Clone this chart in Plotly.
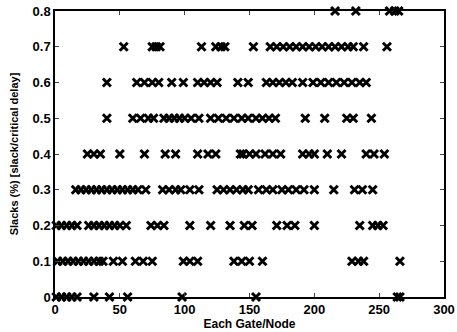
import plotly.graph_objects as go

# x positions (gate/node index) of markers for each slack level
slack_levels = [0.0, 0.1, 0.2, 0.3, 0.4, 0.5, 0.6, 0.7, 0.8]
x_00 = [1, 5, 9, 13, 17, 30, 42, 56, 98, 155, 264, 266]
x_01 = [2, 6, 10, 14, 18, 22, 26, 30, 34, 37, 45, 52, 62, 68, 75, 99, 104, 110,
        138, 144, 150, 160, 229, 234, 238, 266]
x_02 = [1, 5, 9, 13, 17, 26, 30, 34, 38, 42, 46, 50, 55, 74, 79, 84, 104, 120,
        135, 146, 152, 171, 179, 185, 200, 235, 245, 249, 253]
x_03 = [16, 20, 24, 28, 32, 36, 40, 44, 48, 52, 56, 60, 64, 70, 83, 88, 93, 97,
        104, 111, 125, 130, 135, 140, 145, 149, 157, 163, 168, 175, 180, 186,
        192, 200, 215, 231, 237, 245]
x_04 = [25, 30, 35, 50, 69, 85, 93, 110, 118, 124, 143, 145, 150, 155, 162, 168,
        174, 191, 196, 200, 210, 221, 240, 246, 254]
x_05 = [40, 60, 66, 72, 76, 84, 88, 92, 96, 100, 105, 111, 120, 126, 132, 138,
        144, 149, 155, 160, 165, 170, 193, 208, 225, 230, 244]
x_06 = [40, 63, 69, 75, 80, 90, 99, 110, 115, 120, 125, 141, 149, 163, 168, 173,
        178, 183, 191, 199, 205, 211, 217, 223, 229, 235, 240]
x_07 = [53, 75, 78, 81, 113, 124, 128, 131, 153, 166, 171, 176, 181, 186, 191,
        196, 201, 206, 211, 216, 221, 226, 230, 238, 256]
x_08 = [216, 232, 258, 262, 265]

rows = [x_00, x_01, x_02, x_03, x_04, x_05, x_06, x_07, x_08]
xs, ys = [], []
for lvl, row in zip(slack_levels, rows):
    xs += row
    ys += [lvl] * len(row)

x_ticks = [0, 50, 100, 150, 200, 250, 300]
y_ticks = [0, 0.1, 0.2, 0.3, 0.4, 0.5, 0.6, 0.7, 0.8]
y_tick_text = ["0", "0.1", "0.2", "0.3", "0.4", "0.5", "0.6", "0.7", "0.8"]

fig = go.Figure(go.Scatter(
    x=xs, y=ys, mode="markers",
    marker=dict(symbol="x-thin", size=8, color="black",
                line=dict(width=3, color="black")),
    cliponaxis=False, showlegend=False,
))

tickfont = dict(family="Liberation Sans, Arial", size=13, color="black", weight="bold")
fig.update_layout(
    width=457, height=332,
    margin=dict(l=55, r=13, t=11, b=35),
    paper_bgcolor="white", plot_bgcolor="white",
    font=dict(family="Liberation Sans, Arial", size=12, color="black"),
    xaxis=dict(range=[0, 300], tickvals=x_ticks, ticks="inside", ticklen=4,
               showline=True, linecolor="black", linewidth=1.5, mirror="ticks",
               showgrid=False, zeroline=False, automargin=False,
               tickfont=tickfont,
               title=dict(text="<b>Each Gate/Node</b>", standoff=2,
                          font=dict(family="Liberation Sans, Arial", size=12))),
    yaxis=dict(range=[0, 0.8], tickvals=y_ticks, ticktext=y_tick_text,
               ticks="inside", ticklen=4,
               showline=True, linecolor="black", linewidth=1.5, mirror="ticks",
               showgrid=False, zeroline=False, automargin=False,
               tickfont=tickfont,
               title=dict(text="<b>Slacks (%) [slack/critical delay]</b>", standoff=12,
                          font=dict(family="Liberation Sans, Arial", size=11))),
)

fig.write_html("out.html")
